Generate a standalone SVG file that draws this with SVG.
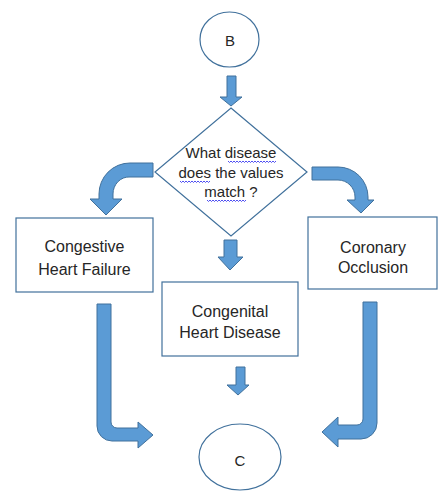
<svg xmlns="http://www.w3.org/2000/svg" width="440" height="491" viewBox="0 0 440 491">
  <style>
    .shape { fill: #ffffff; stroke: #41719C; stroke-width: 1.2; }
    .arrow { fill: #5B9BD5; stroke: #41719C; stroke-width: 1; stroke-linejoin: miter; }
    .label { font-family: "Liberation Sans", Arial, sans-serif; font-size: 16px; fill: #262626; text-anchor: middle; }
    .small { font-size: 15px; }
    .squiggle { fill: none; stroke: #3b3bf0; stroke-width: 0.9; }
  </style>
  <rect width="440" height="491" fill="#ffffff"/>

  <!-- connectors: block arrows -->
  <g id="connectors">
    <!-- B to decision -->
    <path class="arrow" d="M227,76 H236 V97 H242 L231,106 L220,97 H227 Z"/>
    <!-- decision left to Congestive Heart Failure -->
    <path class="arrow" d="M153,163 H130 A31,31 0 0 0 99,194 V199 H90 L106,215 L122,199 H113 V194 A16,17 0 0 1 130,177 H153 Z"/>
    <!-- decision right to Coronary Occlusion -->
    <path class="arrow" d="M312,167 H338 A30,30 0 0 1 368,197 V200 H374 L361,213 L347,200 H355 V197 A17,17 0 0 0 338,180 H312 Z"/>
    <!-- decision down to Congenital Heart Disease -->
    <path class="arrow" d="M224,240 H237 V257 H243 L230,270 L218,257 H224 Z"/>
    <!-- Congenital Heart Disease down to C -->
    <path class="arrow" d="M236,367 H245 V385 H249 L238,395 L227,385 H236 Z"/>
    <!-- Congestive Heart Failure to C -->
    <path class="arrow" d="M97,304 H111 V422 A6,6 0 0 0 117,428 H138 V422 L153,435 L138,448 V441 H112 A15,15 0 0 1 97,426 Z"/>
    <!-- Coronary Occlusion to C -->
    <path class="arrow" d="M363,302 H377 V423 A16,16 0 0 1 361,439 H338 V447 L322,432 L338,417 V425 H357 A6,6 0 0 0 363,419 Z"/>
  </g>

  <!-- connector B -->
  <g id="node-b">
    <ellipse class="shape" cx="229.5" cy="39.5" rx="29.5" ry="27.5"/>
    <text class="label small" x="230" y="46">B</text>
  </g>

  <!-- decision -->
  <g id="node-decision">
    <polygon class="shape" points="231,108 307,172 231,236 155,172"/>
    <text class="label small" x="231" y="158">What disease</text>
    <text class="label small" x="231" y="178">does the values</text>
    <text class="label small" x="231" y="197">match ?</text>
    <path class="squiggle" d="M228,161 l1.5,1.5 l1.5,-1.5 l1.5,1.5 l1.5,-1.5 l1.5,1.5 l1.5,-1.5 l1.5,1.5 l1.5,-1.5 l1.5,1.5 l1.5,-1.5 l1.5,1.5 l1.5,-1.5 l1.5,1.5 l1.5,-1.5 l1.5,1.5 l1.5,-1.5 l1.5,1.5 l1.5,-1.5 l1.5,1.5 l1.5,-1.5 l1.5,1.5 l1.5,-1.5 l1.5,1.5 l1.5,-1.5 l1.5,1.5 l1.5,-1.5 l1.5,1.5 l1.5,-1.5 l1.5,1.5 l1.5,-1.5 l1.5,1.5 l1.5,-1.5"/>
    <path class="squiggle" d="M180,181 l1.5,1.5 l1.5,-1.5 l1.5,1.5 l1.5,-1.5 l1.5,1.5 l1.5,-1.5 l1.5,1.5 l1.5,-1.5 l1.5,1.5 l1.5,-1.5 l1.5,1.5 l1.5,-1.5 l1.5,1.5 l1.5,-1.5 l1.5,1.5 l1.5,-1.5 l1.5,1.5 l1.5,-1.5 l1.5,1.5 l1.5,-1.5"/>
    <path class="squiggle" d="M207,200 l1.5,1.5 l1.5,-1.5 l1.5,1.5 l1.5,-1.5 l1.5,1.5 l1.5,-1.5 l1.5,1.5 l1.5,-1.5 l1.5,1.5 l1.5,-1.5 l1.5,1.5 l1.5,-1.5 l1.5,1.5 l1.5,-1.5 l1.5,1.5 l1.5,-1.5 l1.5,1.5 l1.5,-1.5 l1.5,1.5 l1.5,-1.5 l1.5,1.5 l1.5,-1.5 l1.5,1.5 l1.5,-1.5 l1.5,1.5 l1.5,-1.5"/>
  </g>

  <!-- outcomes -->
  <g id="node-chf">
    <rect class="shape" x="16" y="218" width="137" height="74"/>
    <text class="label" x="84.5" y="252">Congestive</text>
    <text class="label" x="84.5" y="275">Heart Failure</text>
  </g>

  <g id="node-chd">
    <rect class="shape" x="162" y="282" width="136" height="74"/>
    <text class="label" x="230" y="317">Congenital</text>
    <text class="label" x="230" y="338">Heart Disease</text>
  </g>

  <g id="node-co">
    <rect class="shape" x="308" y="217" width="129" height="72"/>
    <text class="label" x="373" y="253">Coronary</text>
    <text class="label" x="373" y="273">Occlusion</text>
  </g>

  <!-- connector C -->
  <g id="node-c">
    <ellipse class="shape" cx="240" cy="457" rx="41" ry="33"/>
    <text class="label small" x="240" y="466">C</text>
  </g>
</svg>
